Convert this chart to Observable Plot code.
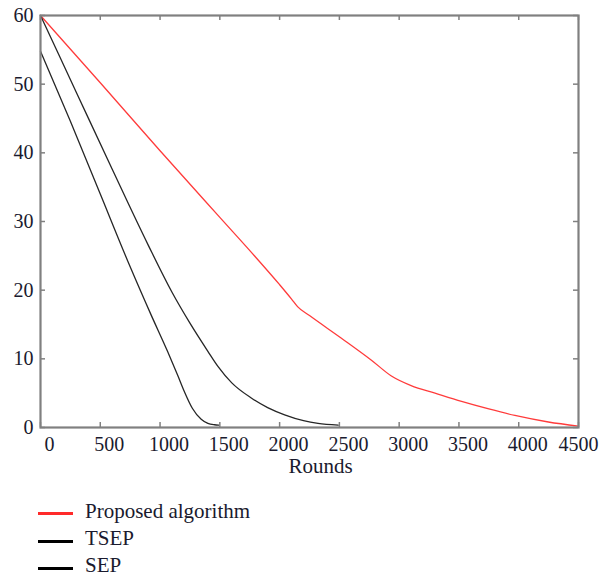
<!DOCTYPE html>
<html>
<head>
<meta charset="utf-8">
<script src="https://cdn.jsdelivr.net/npm/d3@7"></script>
<script src="https://cdn.jsdelivr.net/npm/@observablehq/plot@0.6"></script>
<style>
  html, body { margin: 0; padding: 0; background: #fff; }
  #wrap { position: relative; width: 601px; height: 577px; font-family: 'Liberation Serif', serif; color: #1a1a2e; }
  #wrap svg text { font-family: 'Liberation Serif', serif; }
  .leg { position: absolute; left: 0; width: 601px; height: 26px; }
  .leg .sw { position: absolute; left: 38px; width: 35px; height: 3px; }
  .leg .lb { position: absolute; left: 85px; font-size: 21px; line-height: 26px; top: 0; white-space: nowrap; font-family: 'Liberation Serif', serif; }
</style>
</head>
<body>
<div id="wrap"></div>
<script>
// ---- data ----
const seriesNames = ["Proposed algorithm", "TSEP", "SEP"];
const seriesColors = ["#ff3b3b", "#262626", "#262626"];

const proposedX = [0, 500, 1000, 1500, 1800, 2000, 2100, 2150, 2250, 2517, 2768, 2935, 3100, 3300, 3522, 3750, 3968, 4248, 4500];
const proposedY = [60, 50.2, 40.3, 30.6, 24.8, 20.8, 18.7, 17.6, 16.3, 13.0, 9.8, 7.5, 6.1, 5.0, 3.8, 2.7, 1.75, 0.8, 0.2];

const tsepX = [0, 300, 600, 900, 1100, 1250, 1400, 1484, 1600, 1763, 1900, 2042, 2200, 2321, 2490];
const tsepY = [60, 48.8, 37.6, 26.6, 19.7, 15.2, 11.1, 8.9, 6.5, 4.3, 2.9, 1.85, 1.0, 0.6, 0.35];

const sepX = [0, 250, 500, 750, 925, 1065, 1150, 1204, 1270, 1344, 1400, 1456, 1490];
const sepY = [54.8, 44.6, 34.0, 23.4, 16.4, 11.0, 7.5, 5.2, 2.8, 1.2, 0.6, 0.4, 0.35];

const xTicks = [0, 500, 1000, 1500, 2000, 2500, 3000, 3500, 4000, 4500];
const yTicks = [0, 10, 20, 30, 40, 50, 60];
const xLabel = "Rounds";

// ---- layout ----
const W = 601, H = 490;
const mL = 40, mR = 23, mT = 15, mB = 63;
const innerW = W - mL - mR, innerH = H - mT - mB;
const tickLen = 5;
const frameColor = "#808080";
const textColor = "#1a1a2e";
const serif = "'Liberation Serif', serif";

const seriesData = [
  proposedX.map((x, i) => ({x, y: proposedY[i]})),
  tsepX.map((x, i) => ({x, y: tsepY[i]})),
  sepX.map((x, i) => ({x, y: sepY[i]}))
];

const chart = Plot.plot({
  width: W, height: H,
  marginLeft: mL, marginRight: mR, marginTop: mT, marginBottom: mB,
  style: {fontFamily: serif, color: textColor, background: "#fff", overflow: "visible"},
  x: {domain: [0, 4500]},
  y: {domain: [0, 60]},
  marks: [
    ...seriesData.map((d, i) => Plot.line(d, {x: "x", y: "y", stroke: seriesColors[i], strokeWidth: 1.3, curve: "monotone-x"})),
    // inward ticks on all four sides
    Plot.tickX(xTicks, {x: d => d, insetTop: innerH - tickLen, stroke: frameColor, strokeWidth: 1.5}),
    Plot.tickX(xTicks, {x: d => d, insetBottom: innerH - tickLen, stroke: frameColor, strokeWidth: 1.5}),
    Plot.tickY(yTicks, {y: d => d, insetRight: innerW - tickLen, stroke: frameColor, strokeWidth: 1.5}),
    Plot.tickY(yTicks, {y: d => d, insetLeft: innerW - tickLen, stroke: frameColor, strokeWidth: 1.5}),
    Plot.frame({stroke: frameColor, strokeWidth: 2.2}),
    Plot.axisX(xTicks.slice(0, -1), {anchor: "bottom", tickSize: 0, tickPadding: 9, dx: 9, fontSize: 20, fill: textColor, label: null, tickFormat: d => String(d)}),
    Plot.axisX(xTicks.slice(-1), {anchor: "bottom", tickSize: 0, tickPadding: 9, dx: 0, fontSize: 20, fill: textColor, label: null, tickFormat: d => String(d)}),
    Plot.axisY(yTicks, {anchor: "left", tickSize: 0, tickPadding: 7, fontSize: 20, fill: textColor, label: null, tickFormat: d => String(d)}),
    Plot.text([xLabel], {text: d => d, frameAnchor: "bottom", dy: 45, dx: 11, fontSize: 21, fill: textColor})
  ]
});

const wrap = document.getElementById("wrap");
wrap.appendChild(chart);

// legend below the SVG
const legTops = [498, 525, 552];
seriesNames.forEach((name, i) => {
  const row = document.createElement("div");
  row.className = "leg";
  row.style.top = legTops[i] + "px";
  const sw = document.createElement("div");
  sw.className = "sw";
  sw.style.background = i === 0 ? "#ff2a2a" : "#000";
  sw.style.top = (i === 0 ? 14 : 15) + "px";
  const lb = document.createElement("div");
  lb.className = "lb";
  lb.textContent = name;
  row.appendChild(sw);
  row.appendChild(lb);
  wrap.appendChild(row);
});
</script>
</body>
</html>
